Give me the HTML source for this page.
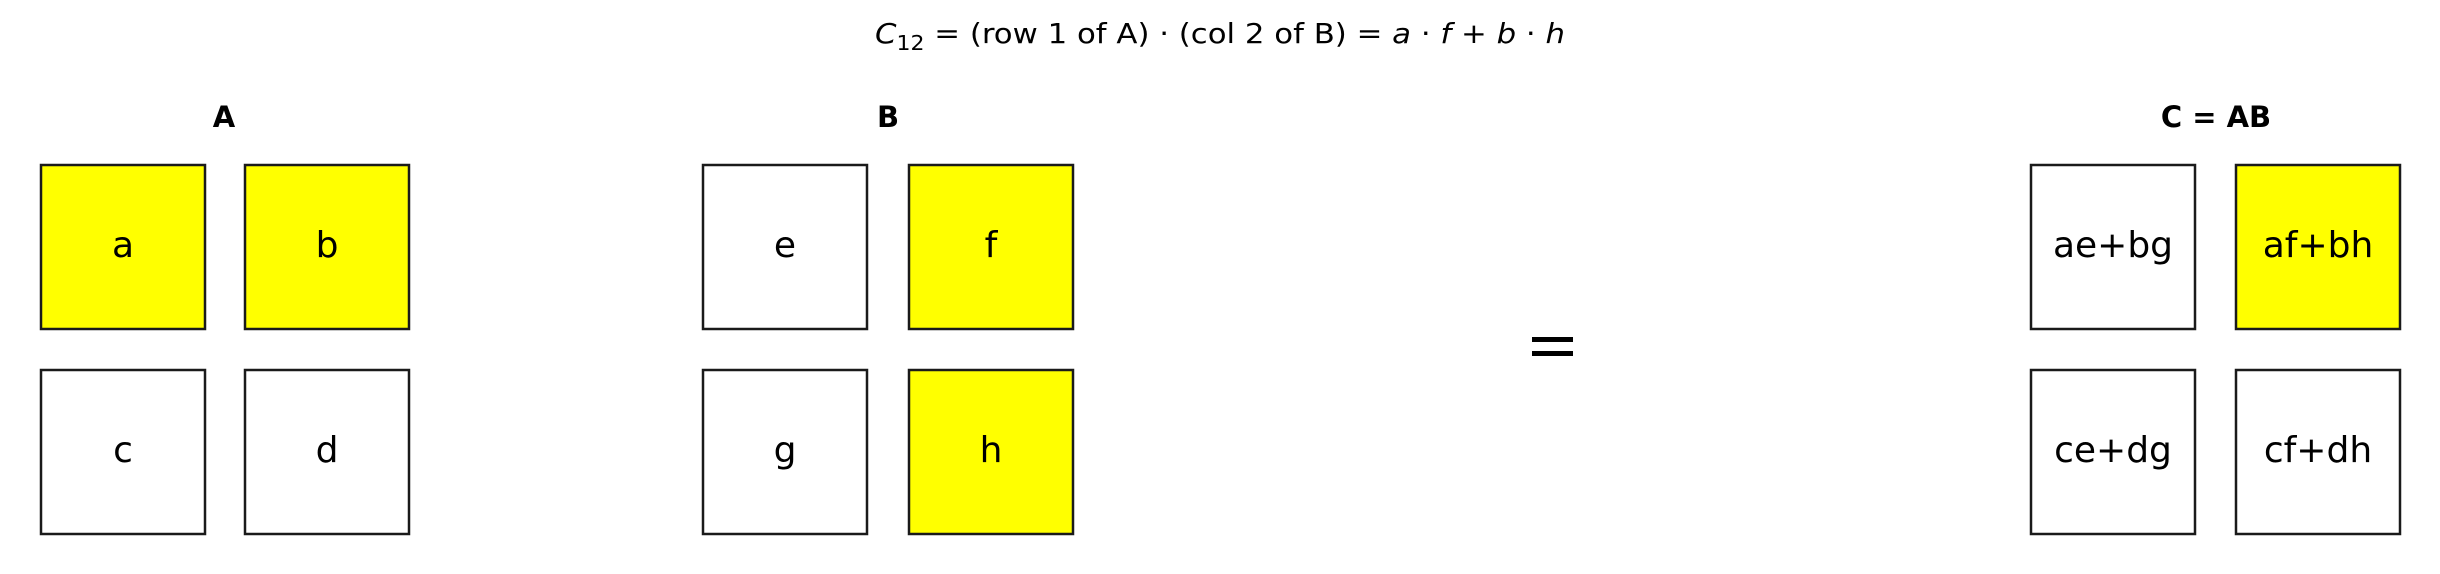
<!DOCTYPE html>
<html><head><meta charset="utf-8"><style>
html,body{margin:0;padding:0;background:#fff;}
svg{display:block;}
text{font-family:"DejaVu Sans","Liberation Sans",sans-serif;fill:#000;}
</style></head><body>
<svg width="2440" height="574" viewBox="0 0 2440 574" xmlns="http://www.w3.org/2000/svg">
<text x="1220" y="43" font-size="28" text-anchor="middle" textLength="690" lengthAdjust="spacingAndGlyphs"><tspan font-style="italic">C</tspan><tspan font-size="20" dy="7">12</tspan><tspan dy="-7"> = (row 1 of A) · (col 2 of B) = </tspan><tspan font-style="italic">a</tspan> · <tspan font-style="italic">f</tspan> + <tspan font-style="italic">b</tspan> · <tspan font-style="italic">h</tspan></text>
<g font-weight="bold" font-size="29" text-anchor="middle">
<text x="224" y="127">A</text>
<text x="888" y="127">B</text>
<text x="2216" y="127">C = AB</text>
</g>
<g stroke="#1a1a1a" stroke-width="2.5">
<rect x="41" y="165" width="164" height="164" fill="#ffff00"/>
<rect x="245" y="165" width="164" height="164" fill="#ffff00"/>
<rect x="41" y="370" width="164" height="164" fill="#fff"/>
<rect x="245" y="370" width="164" height="164" fill="#fff"/>
<rect x="703" y="165" width="164" height="164" fill="#fff"/>
<rect x="909" y="165" width="164" height="164" fill="#ffff00"/>
<rect x="703" y="370" width="164" height="164" fill="#fff"/>
<rect x="909" y="370" width="164" height="164" fill="#ffff00"/>
<rect x="2031" y="165" width="164" height="164" fill="#fff"/>
<rect x="2236" y="165" width="164" height="164" fill="#ffff00"/>
<rect x="2031" y="370" width="164" height="164" fill="#fff"/>
<rect x="2236" y="370" width="164" height="164" fill="#fff"/>
</g>
<g font-size="36" text-anchor="middle">
<text x="123" y="257">a</text>
<text x="327" y="257">b</text>
<text x="123" y="462">c</text>
<text x="327" y="462">d</text>
<text x="785" y="257">e</text>
<text x="991" y="257">f</text>
<text x="785" y="462">g</text>
<text x="991" y="462">h</text>
<text x="2113" y="257">ae+bg</text>
<text x="2318" y="257">af+bh</text>
<text x="2113" y="462">ce+dg</text>
<text x="2318" y="462">cf+dh</text>
</g>
<rect x="1532" y="337" width="41" height="5" fill="#000"/>
<rect x="1532" y="351" width="41" height="5" fill="#000"/>
</svg>
</body></html>
